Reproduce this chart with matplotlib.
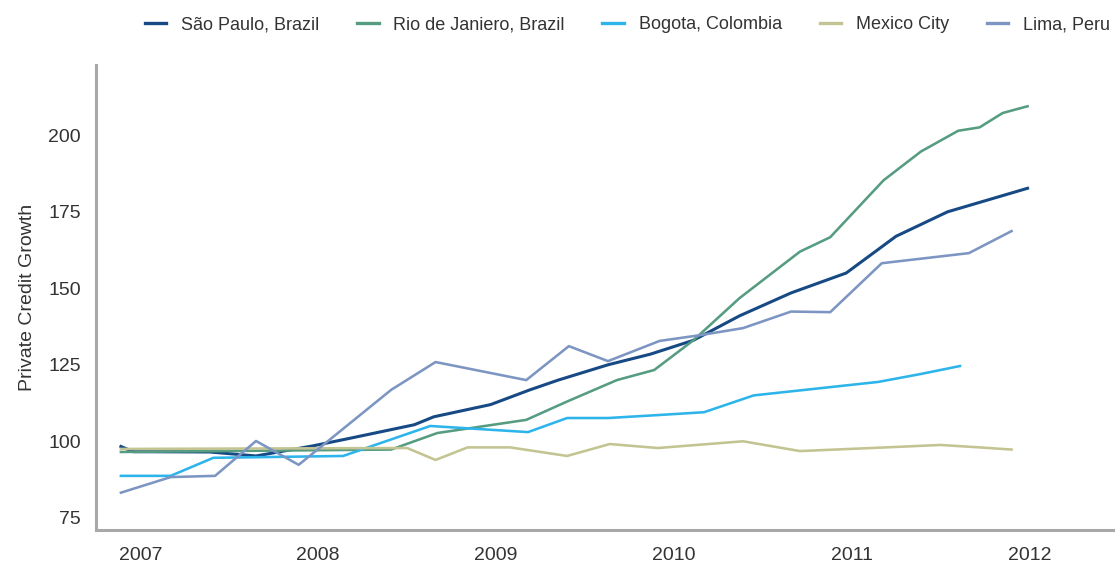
import matplotlib
matplotlib.use('Agg')
import matplotlib.pyplot as plt

# values (x in decimal years)
sao_x = [2006.89, 2006.96, 2007.39, 2007.65, 2007.97, 2008.18, 2008.54, 2008.65, 2008.97, 2009.19,
         2009.35, 2009.63, 2009.87, 2010.11, 2010.37, 2010.66, 2010.97, 2011.25, 2011.54, 2011.99]
sao_y = [98.3, 96.6, 96.5, 95.2, 98.5, 101.0, 105.4, 108.0, 112.0, 116.8,
         120.0, 125.0, 128.5, 133.0, 141.0, 148.5, 155.0, 167.0, 175.0, 182.7]

rio_x = [2006.89, 2008.41, 2008.67, 2009.17, 2009.40, 2009.68, 2009.89, 2010.11, 2010.37, 2010.71,
         2010.88, 2011.18, 2011.39, 2011.60, 2011.72, 2011.85, 2011.99]
rio_y = [96.5, 97.3, 102.7, 107.0, 113.0, 120.0, 123.3, 133.0, 146.8, 162.0,
         166.7, 185.3, 194.7, 201.5, 202.6, 207.3, 209.5]

bog_x = [2006.89, 2007.17, 2007.41, 2008.14, 2008.63, 2009.18, 2009.40, 2009.63, 2009.92, 2010.17,
         2010.45, 2011.15, 2011.39, 2011.61]
bog_y = [88.7, 88.7, 94.6, 95.2, 105.0, 103.0, 107.6, 107.6, 108.6, 109.5,
         115.0, 119.4, 122.0, 124.6]

mex_x = [2006.89, 2008.50, 2008.66, 2008.84, 2009.08, 2009.40, 2009.64, 2009.91, 2010.39, 2010.71,
         2010.99, 2011.27, 2011.50, 2011.72, 2011.90]
mex_y = [97.5, 97.8, 93.9, 98.0, 98.0, 95.2, 99.1, 97.8, 100.0, 96.8,
         97.5, 98.2, 98.8, 98.0, 97.3]

lima_x = [2006.89, 2007.17, 2007.42, 2007.65, 2007.89, 2008.41, 2008.66, 2009.17, 2009.41, 2009.63,
          2009.92, 2010.15, 2010.39, 2010.66, 2010.88, 2011.17, 2011.66, 2011.90]
lima_y = [83.2, 88.3, 88.7, 100.1, 92.3, 116.8, 125.9, 120.0, 131.1, 126.2,
          132.8, 134.7, 137.0, 142.4, 142.2, 158.2, 161.5, 168.7]

years = [2007, 2008, 2009, 2010, 2011, 2012]
yticks = [75, 100, 125, 150, 175, 200]

plt.rcParams['font.family'] = ['Liberation Sans', 'DejaVu Sans']

fig = plt.figure(figsize=(11.15, 5.63), dpi=100)
ax = fig.add_axes([0.0861, 0.0586, 0.912, 0.826])

lw = 1.85
ax.plot(sao_x, sao_y, color='#174a85', lw=lw + 0.35, label='São Paulo, Brazil')
ax.plot(rio_x, rio_y, color='#569c80', lw=lw, label='Rio de Janiero, Brazil')
ax.plot(bog_x, bog_y, color='#2db4ea', lw=lw, label='Bogota, Colombia')
ax.plot(mex_x, mex_y, color='#c3c492', lw=lw, label='Mexico City')
ax.plot(lima_x, lima_y, color='#7c95c2', lw=lw, label='Lima, Peru')

ax.set_xlim(2006.75, 2012.47)
ax.set_ylim(71, 223)
ax.set_xticks(years)
ax.set_yticks(yticks)
ax.tick_params(length=0, labelsize=14, colors='#333333')
ax.tick_params(axis='y', pad=11)
ax.tick_params(axis='x', pad=12)
for s in ['top', 'right']:
    ax.spines[s].set_visible(False)
for s in ['left', 'bottom']:
    ax.spines[s].set_color('#a8a8a8')
    ax.spines[s].set_linewidth(2.2)
ax.set_ylabel('Private Credit Growth', fontsize=14, color='#333333', labelpad=9)

leg = ax.legend(ncol=5, loc='center right', bbox_to_anchor=(0.997, 1.086), frameon=False,
                fontsize=13, handlelength=1.2, handletextpad=0.8, columnspacing=2.1,
                borderaxespad=0, borderpad=0)
for t in leg.get_texts():
    t.set_color('#333333')
for h in leg.legend_handles:
    h.set_linewidth(2.4)

fig.savefig('out.png', dpi=100)
